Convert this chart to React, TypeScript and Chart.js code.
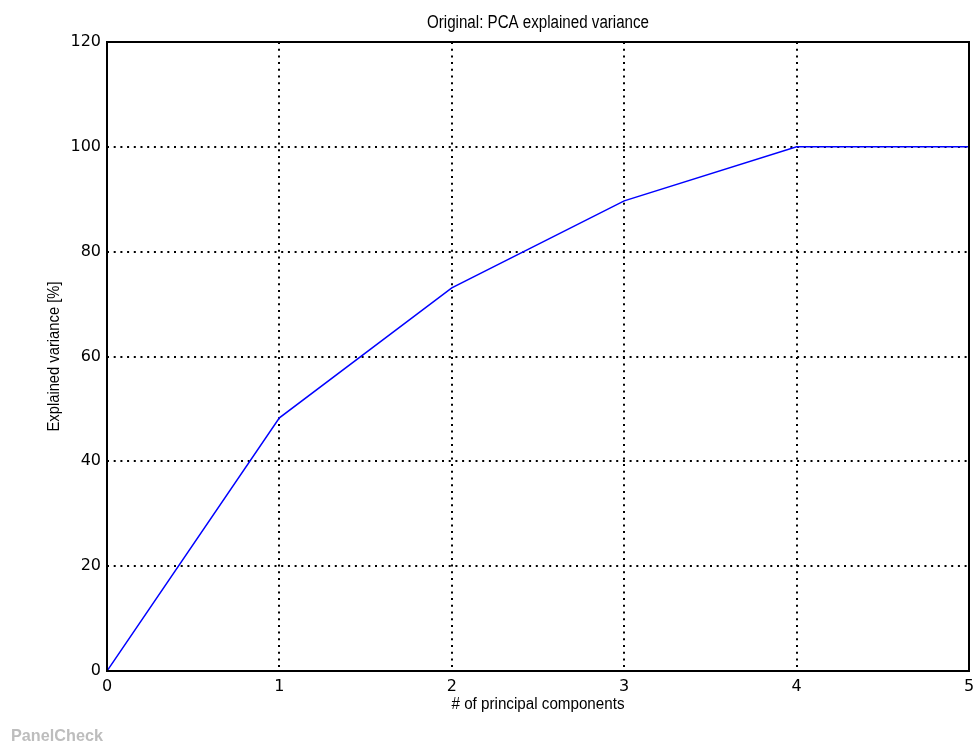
import React, { useEffect, useRef } from "react";
import { Chart, registerables } from "chart.js";

Chart.register(...registerables);

const components = [0, 1, 2, 3, 4, 5];
const explainedVariance = [0, 48.3, 73.1, 89.7, 100, 100];
const xTicks = [0, 1, 2, 3, 4, 5];
const yTicks = [0, 20, 40, 60, 80, 100, 120];

const titleText = "Original: PCA explained variance";
const xLabel = "# of principal components";
const yLabel = "Explained variance [%]";
const brand = "PanelCheck";

const NARROW = "'Liberation Sans Narrow', 'Liberation Sans', Arial, sans-serif";

function fitText(
  ctx: CanvasRenderingContext2D,
  text: string,
  x: number,
  y: number,
  targetW: number,
  align: "center" | "left"
) {
  const w = ctx.measureText(text).width;
  const s = w > 0 ? targetW / w : 1;
  ctx.save();
  ctx.translate(x, y);
  ctx.scale(s, 1);
  ctx.textAlign = align;
  ctx.fillText(text, 0, 0);
  ctx.restore();
}

const decorPlugin = {
  id: "decor",
  afterDraw(chart: any) {
    const { ctx, chartArea } = chart;
    const { left, top, right, bottom } = chartArea;
    ctx.save();
    // frame
    ctx.strokeStyle = "#000";
    ctx.lineWidth = 2;
    ctx.setLineDash([]);
    ctx.strokeRect(Math.round(left), Math.round(top), Math.round(right) - Math.round(left), Math.round(bottom) - Math.round(top));
    ctx.fillStyle = "#000";
    ctx.textBaseline = "alphabetic";
    // title
    ctx.font = `18px ${NARROW}`;
    fitText(ctx, titleText, (left + right) / 2, 28, 222, "center");
    // x label
    ctx.font = `16px ${NARROW}`;
    fitText(ctx, xLabel, (left + right) / 2, 709, 173, "center");
    // y label
    ctx.save();
    ctx.translate(59, (top + bottom) / 2);
    ctx.rotate(-Math.PI / 2);
    fitText(ctx, yLabel, 0, 0, 150, "center");
    ctx.restore();
    // brand
    ctx.fillStyle = "#bdbdbd";
    ctx.font = `bold 17px ${NARROW}`;
    fitText(ctx, brand, 11, 741, 92, "left");
    ctx.restore();
  },
};

export default function App() {
  const ref = useRef<HTMLCanvasElement>(null);
  useEffect(() => {
    document.body.style.margin = "0";
    const canvas = ref.current!;
    const chart = new Chart(canvas, {
      type: "line",
      data: {
        datasets: [
          {
            data: components.map((c, i) => ({ x: c, y: explainedVariance[i] })),
            borderColor: "#0000ff",
            borderWidth: 1.5,
            pointRadius: 0,
            tension: 0,
            fill: false,
          },
        ],
      },
      options: {
        animation: false,
        responsive: false,
        devicePixelRatio: 1,
        layout: { padding: { left: 0, top: 42, right: 7, bottom: 0 } },
        plugins: {
          legend: { display: false },
          title: { display: false },
          tooltip: { enabled: false },
        },
        scales: {
          x: {
            type: "linear",
            min: 0,
            max: 5,
            afterBuildTicks: (s: any) => {
              s.ticks = xTicks.map((v) => ({ value: v }));
            },
            afterFit: (s: any) => {
              s.height = 74;
              s.paddingLeft = 0;
              s.paddingRight = 0;
            },
            ticks: {
              color: "#000",
              padding: 6,
              maxRotation: 0,
              autoSkip: false,
              font: { family: "'DejaVu Sans'", size: 16 },
              callback: (v: any) => String(v),
            },
            grid: { color: "#000", lineWidth: 2, drawTicks: false },
            border: { display: false, dash: [2, 4.7] },
          },
          y: {
            type: "linear",
            min: 0,
            max: 120,
            afterBuildTicks: (s: any) => {
              s.ticks = yTicks.map((v) => ({ value: v }));
            },
            afterFit: (s: any) => {
              s.width = 107;
              s.paddingTop = 0;
              s.paddingBottom = 0;
            },
            ticks: {
              color: "#000",
              padding: 6,
              autoSkip: false,
              font: { family: "'DejaVu Sans'", size: 16 },
              callback: (v: any) => String(v),
            },
            grid: { color: "#000", lineWidth: 2, drawTicks: false },
            border: { display: false, dash: [2, 4.7] },
          },
        },
      },
      plugins: [decorPlugin],
    });
    return () => chart.destroy();
  }, []);
  return (
    <div style={{ width: 976, height: 745 }}>
      <canvas ref={ref} width={976} height={745} style={{ display: "block" }} />
    </div>
  );
}
